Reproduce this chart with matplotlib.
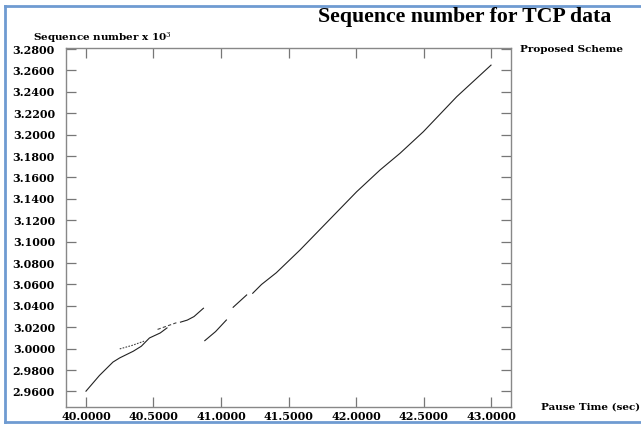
import matplotlib
matplotlib.use("Agg")
import matplotlib.pyplot as plt
from matplotlib.lines import Line2D

# ---- data (pause time sec, sequence number x 10^3) ----
seg1_x = [40.00, 40.10, 40.20, 40.25, 40.35, 40.41, 40.47, 40.55, 40.60]
seg1_y = [2.9603, 2.9750, 2.9875, 2.9914, 2.9976, 3.0023, 3.0100, 3.0147, 3.0194]
seg2_x = [40.25, 40.34, 40.43]
seg2_y = [2.9998, 3.0030, 3.0070]
seg3_x = [40.53, 40.61, 40.68]
seg3_y = [3.0180, 3.0216, 3.0247]
seg4_x = [40.70, 40.75, 40.80, 40.87]
seg4_y = [3.0248, 3.0267, 3.0300, 3.0378]
seg5_x = [40.88, 40.96, 41.04]
seg5_y = [3.0075, 3.0160, 3.0268]
seg6_x = [41.09, 41.19]
seg6_y = [3.0387, 3.0502]
seg7_x = [41.235, 41.30, 41.41, 41.585, 42.005, 42.178, 42.326, 42.499, 42.746, 43.00]
seg7_y = [3.0518, 3.0600, 3.0710, 3.0922, 3.1467, 3.1670, 3.1826, 3.2028, 3.2355, 3.2650]

x_ticks = [40.0, 40.5, 41.0, 41.5, 42.0, 42.5, 43.0]
y_ticks = [2.96, 2.98, 3.00, 3.02, 3.04, 3.06, 3.08, 3.10, 3.12, 3.14, 3.16,
           3.18, 3.20, 3.22, 3.24, 3.26, 3.28]

title = "Sequence number for TCP data"
y_label = "Sequence number x 10$^{3}$"
x_label = "Pause Time (sec)"
legend_label = "Proposed Scheme"

plt.rcParams['mathtext.fontset'] = 'dejavuserif'
fig = plt.figure(figsize=(6.41, 4.26), dpi=100)
ax = fig.add_axes([66/641, 1-407/426, (511-66)/641, (407-48)/426])

line_kw = dict(color="#222222", lw=0.8)
ax.plot(seg1_x, seg1_y, **line_kw)
ax.plot(seg2_x, seg2_y, color="#444444", lw=0.8, ls=(0, (1.5, 1.2)))
ax.plot(seg3_x, seg3_y, color="#444444", lw=0.8, ls=(0, (3, 2)))
ax.plot(seg4_x, seg4_y, **line_kw)
ax.plot(seg5_x, seg5_y, **line_kw)
ax.plot(seg6_x, seg6_y, **line_kw)
ax.plot(seg7_x, seg7_y, **line_kw)

ax.set_xlim(39.852, 43.148)
ax.set_ylim(2.9455, 3.2810)

tfont = dict(family="DejaVu Serif", weight="bold", size=8)
ax.set_xticks(x_ticks)
ax.set_xticklabels([f"{v:.4f}" for v in x_ticks], fontdict=tfont)
ax.set_yticks(y_ticks)
ax.set_yticklabels([f"{v:.4f}" for v in y_ticks], fontdict=tfont)
ax.tick_params(axis='both', direction='in', top=True, right=True,
               length=7, width=0.9, color="#777777")
ax.tick_params(axis='x', pad=3)
ax.tick_params(axis='y', pad=8)
for s in ax.spines.values():
    s.set_color("#888888")
    s.set_linewidth(1.0)

fig.text(318/641, 1-17/426, title, family="Liberation Serif", weight="bold",
         size=15.7, ha="left", va="center")
fig.text(33/641, 1-38/426, y_label, family="DejaVu Serif", weight="bold",
         size=7.5, ha="left", va="center")
fig.text(520/641, 1-49/426, legend_label, family="DejaVu Serif", weight="bold",
         size=7.5, ha="left", va="center")
fig.text(541/641, 1-407/426, x_label, family="DejaVu Serif", weight="bold",
         size=7.5, ha="left", va="center")

# blue frame around the picture
bc = "#6f9bd1"
fig.add_artist(Line2D([5/641, 5/641], [1-6/426, 1-422/426], color=bc, lw=2, transform=fig.transFigure))
fig.add_artist(Line2D([5/641, 1.0], [1-6/426, 1-6/426], color=bc, lw=2, transform=fig.transFigure))
fig.add_artist(Line2D([5/641, 1.0], [1-422/426, 1-422/426], color=bc, lw=2, transform=fig.transFigure))

fig.savefig("out.png", dpi=100)
